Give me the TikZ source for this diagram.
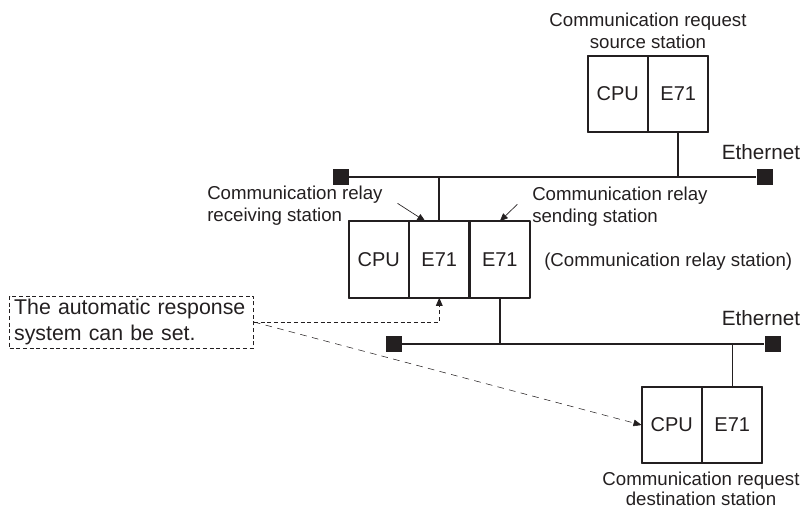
\documentclass[tikz,border=0pt]{standalone}
\usepackage{fontspec}
\setmainfont{Liberation Sans}
\usetikzlibrary{arrows.meta}
\definecolor{ink}{HTML}{231F20}
\tikzset{
  cell/.style={draw=ink,line width=0.8pt,minimum width=44.6pt,minimum height=56.6pt,inner sep=0pt,font=\fontsize{15}{18}\selectfont},
  frame/.style={draw=ink,line width=1.3pt},
  term/.style={fill=ink,minimum size=12pt,inner sep=0pt},
  net/.style={line width=1.5pt},
  note/.style={draw,dash pattern=on 3pt off 2pt,line width=0.6pt,text width=176pt,align=left,inner xsep=3.5pt,inner ysep=2pt,minimum height=39pt,font=\fontsize{16}{19.5}\selectfont},
}
\begin{document}
\begin{tikzpicture}[x=0.75pt,y=-0.75pt,font=\fontsize{14}{16.5}\selectfont,line join=round,>={Triangle[length=6pt,width=5pt]},color=ink]
\useasboundingbox (0,0) rectangle (804,508);
\node[cell] (tcpu) at (617.75,94) {CPU};
\node[cell,anchor=west] (te71) at (tcpu.east) {E71};
\node[cell] (mcpu) at (378.75,259.5) {CPU};
\node[cell,anchor=west] (mrecv) at (mcpu.east) {E71};
\node[cell,anchor=west] (msend) at (mrecv.east) {E71};
\node[cell] (bcpu) at (671.75,425) {CPU};
\node[cell,anchor=west] (be71) at (bcpu.east) {E71};
\foreach \a/\b in {tcpu/te71,mcpu/msend,bcpu/be71}\draw[frame] (\a.north west) rectangle (\b.south east);
\foreach \n/\x/\y in {tl/340.5/177,tr/764.5/177,bl/393.5/344,br/772.5/344}\node[term] (\n) at (\x,\y) {};
\draw[net] (tl) -- (tr);
\draw[net] (bl) -- (br);
\draw[net] (te71.south) -- (te71.south |- tr);
\draw[net] (mrecv.north) -- (mrecv.north |- tl);
\draw[net] (msend.south) -- (msend.south |- bl);
\draw[line width=0.8pt] (be71.north) -- (be71.north |- br);
\node[align=center] (srclbl) at (648,31) {Communication request\\source station};
\node[align=center,font=\fontsize{14}{15}\selectfont,inner sep=0pt] (dstlbl) at (701,489) {Communication request\\destination station};
\node[align=left,anchor=west,inner sep=0pt] (recvlbl) at (207,206) {Communication relay\\receiving station};
\node[align=left,anchor=west,inner sep=0pt] (sendlbl) at (532,207) {Communication relay\\sending station};
\node[anchor=west,inner sep=0pt] (rellbl) at (544,262) {(Communication relay station)};
\foreach \n/\y in {eth1/152,eth2/318}\node[font=\fontsize{15.5}{18}\selectfont] (\n) at (761,\y) {Ethernet};
\draw[->,line width=0.5pt] ([xshift=11pt,yshift=2pt]recvlbl.east) -- ([xshift=-10.5pt]mrecv.north);
\draw[->,line width=0.5pt] ([xshift=-11pt,yshift=2pt]sendlbl.west) -- (msend.north);
\node[note] (note) at (131.5,322) {The automatic response\\system can be set.};
\draw[->,dash pattern=on 3pt off 2pt,line width=0.6pt] (note.east) -| (mrecv.south);
\draw[->,dash pattern=on 5pt off 4pt,line width=0.4pt] (note.east) -- (bcpu.west);
\end{tikzpicture}
\end{document}
